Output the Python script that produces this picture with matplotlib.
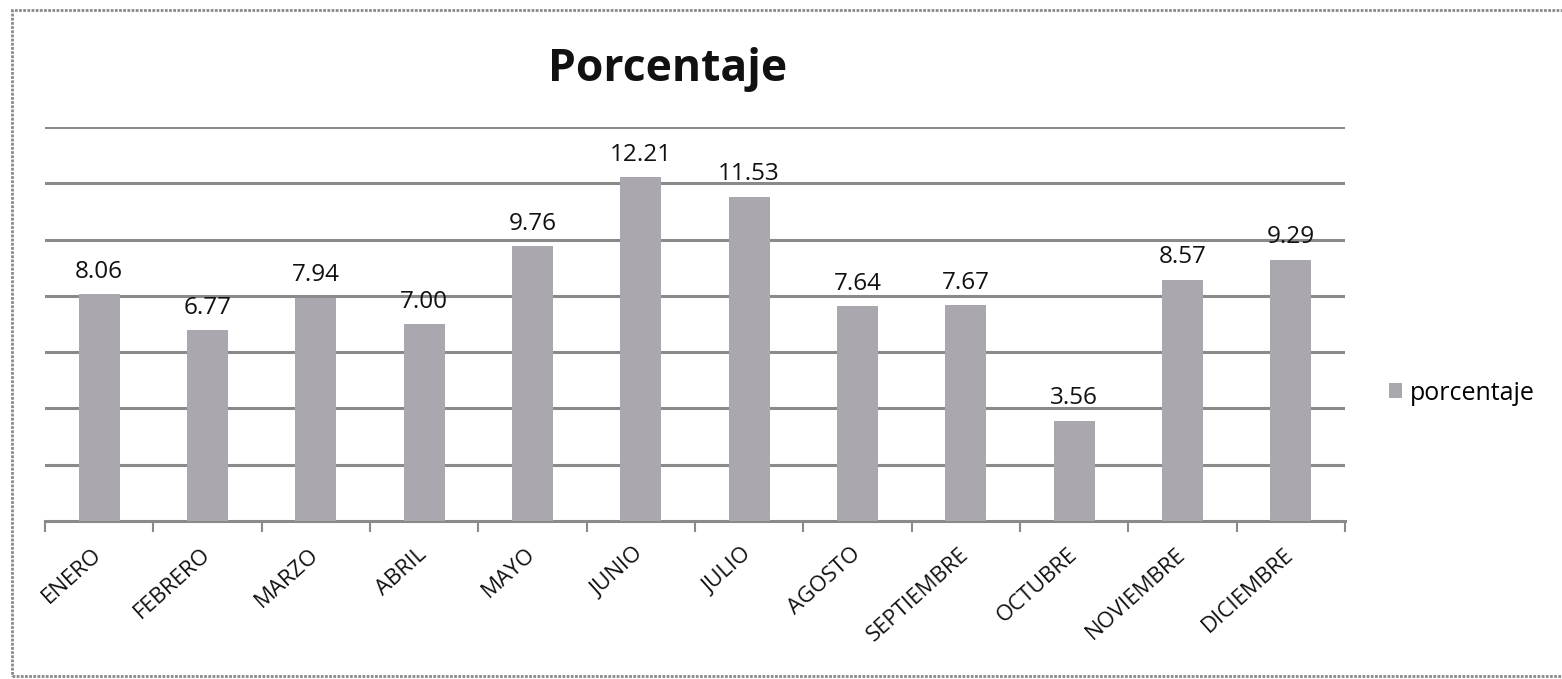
import matplotlib
matplotlib.use("Agg")
import matplotlib.pyplot as plt
from matplotlib.patches import Rectangle
import numpy as np

months = ["ENERO", "FEBRERO", "MARZO", "ABRIL", "MAYO", "JUNIO", "JULIO",
          "AGOSTO", "SEPTIEMBRE", "OCTUBRE", "NOVIEMBRE", "DICIEMBRE"]
values = [8.06, 6.77, 7.94, 7.00, 9.76, 12.21, 11.53, 7.64, 7.67, 3.56, 8.57, 9.29]
labels = ["8.06", "6.77", "7.94", "7.00", "9.76", "12.21", "11.53", "7.64", "7.67", "3.56", "8.57", "9.29"]
series_name = "porcentaje"
title = "Porcentaje"

plt.rcParams['font.family'] = ['Open Sans', 'DejaVu Sans']

fig = plt.figure(figsize=(15.62, 6.79), dpi=100)
ax = fig.add_axes([45/1562, 1 - 521/679, 1300/1562, (521-127)/679])

x = np.arange(len(months))
bar_color = "#aba7ae"
bars = ax.bar(x, values, width=0.38, color=bar_color, label=series_name, zorder=3)

ax.set_xlim(-0.5, len(months) - 0.5)
ax.set_ylim(0, 14)
ax.set_yticks(np.arange(2, 15, 2))
ax.yaxis.grid(True, color="#8a8a8a", linewidth=2.2, linestyle="-", zorder=1)
ax.tick_params(axis='y', length=0, labelleft=False)

for s in ["top", "right", "left"]:
    ax.spines[s].set_visible(False)
ax.spines["bottom"].set_color("#8a8a8a")
ax.spines["bottom"].set_linewidth(2.2)

ax.set_xticks(x)
ax.set_xticklabels(months, rotation=42, ha="right", va="center",
                   rotation_mode="anchor", fontsize=16, color="#111111")
ax.tick_params(axis='x', length=0, pad=22)
# boundary ticks
ax.set_xticks(np.arange(-0.5, len(months), 1), minor=True)
ax.tick_params(axis='x', which='minor', length=8, width=1.5, color="#8a8a8a")

for xi, v, lab in zip(x, values, labels):
    ax.annotate(lab, (xi, v), xytext=(0, 7.5), textcoords="offset points",
                ha="center", va="bottom", fontsize=17.5, color="#111111")

fig.text(668/1562, 1 - 70/679, title, ha="center", va="center",
         fontsize=32, fontweight="bold", color="#111111")

leg = fig.legend(handles=[bars], labels=[series_name], loc="center left",
                 bbox_to_anchor=(1371/1562, 1 - 393/679), frameon=False,
                 fontsize=18, handlelength=0.55, handleheight=0.55, handletextpad=0.3,
                 borderpad=0.2)

fig.patches.append(Rectangle((12/1562, 1 - 676/679), 1.0, (676-10)/679,
                             transform=fig.transFigure, fill=False,
                             edgecolor="#8a8a8a", linewidth=2, linestyle=(0, (1, 0.5))))

fig.savefig("out.png", dpi=100)
